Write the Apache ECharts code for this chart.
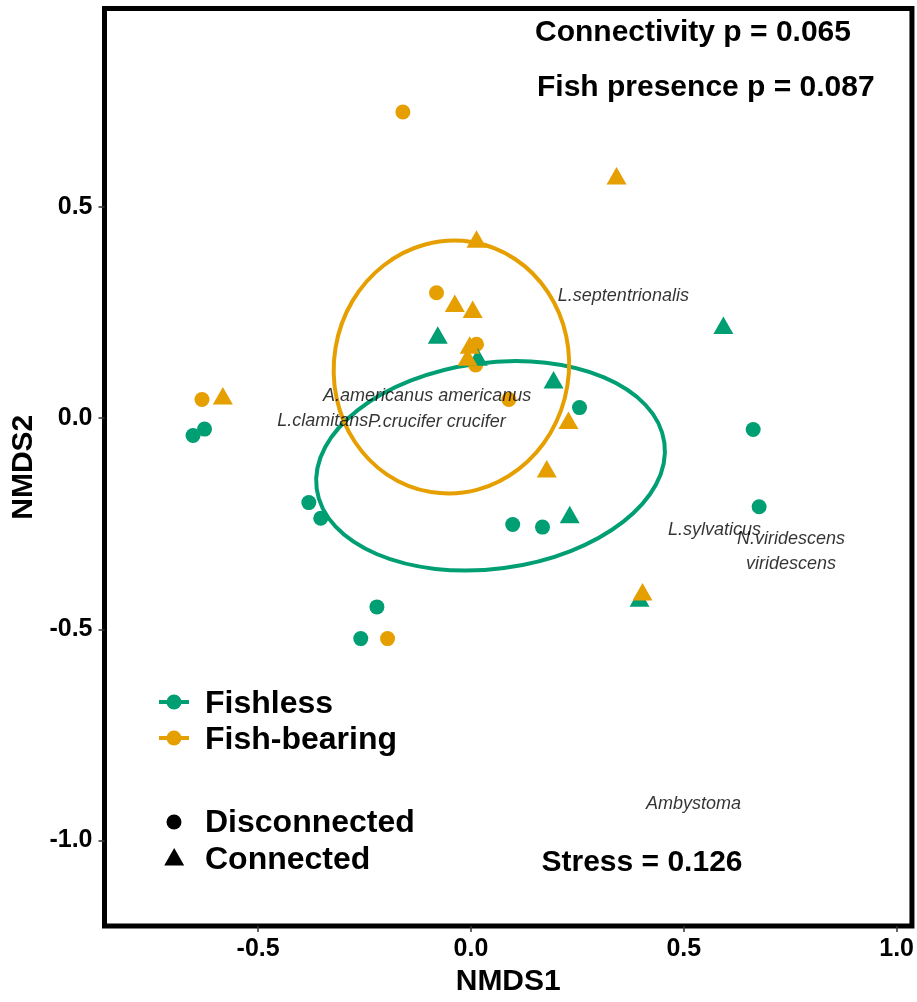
<!DOCTYPE html>
<html>
<head>
<meta charset="utf-8">
<title>NMDS ordination of amphibian communities</title>
<script src="https://cdn.jsdelivr.net/npm/echarts@6/dist/echarts.min.js"></script>
<style>
  html, body { margin: 0; padding: 0; background: #fff; }
  #chart { width: 917px; height: 1002px; }
</style>
</head>
<body>
<div id="chart"></div>
<script>
// Site scores (NMDS1, NMDS2) by fish status and connectivity
const fishlessDisconnectedX = [-0.653, -0.626, -0.381, -0.353, -0.221, -0.259, 0.255, 0.098, 0.168, 0.663, 0.677];
const fishlessDisconnectedY = [-0.041, -0.026, -0.200, -0.237, -0.447, -0.522, 0.025, -0.252, -0.258, -0.027, -0.210];
const fishlessConnectedX = [-0.078, 0.593, 0.194, 0.016, 0.232, 0.396];
const fishlessConnectedY = [0.197, 0.220, 0.091, 0.145, -0.228, -0.426];
const fishBearingDisconnectedX = [-0.160, -0.081, 0.013, 0.011, 0.089, -0.632, -0.196];
const fishBearingDisconnectedY = [0.725, 0.297, 0.175, 0.126, 0.044, 0.044, -0.522];
const fishBearingConnectedX = [0.342, 0.013, -0.038, 0.004, -0.003, -0.008, -0.583, 0.229, 0.178, 0.403];
const fishBearingConnectedY = [0.574, 0.424, 0.272, 0.258, 0.173, 0.145, 0.053, -0.005, -0.120, -0.411];

// Species scores
const speciesNames = ['L.septentrionalis', 'A.americanus americanus', 'L.clamitans', 'P.crucifer crucifer',
                      'L.sylvaticus', 'N.viridescens\nviridescens', 'Ambystoma'];
const speciesX = [0.358, -0.103, -0.348, -0.080, 0.572, 0.752, 0.523];
const speciesY = [0.297, 0.059, 0.000, -0.002, -0.257, -0.308, -0.907];

// 95% ellipses per fish group: centre, semi-axes, rotation in degrees
const ellipseGroups = ['Fishless', 'Fish-bearing'];
const ellipseCentreX = [0.046, -0.046];
const ellipseCentreY = [-0.113, 0.121];
const ellipseSemiX = [0.412, 0.276];
const ellipseSemiY = [0.244, 0.300];
const ellipseAngle = [7.5, -9.3];

// Axis ticks
const xTickValues = [-0.5, 0.0, 0.5, 1.0];
const yTickValues = [-1.0, -0.5, 0.0, 0.5];

// Test statistics
const connectivityP = '0.065';
const fishPresenceP = '0.087';
const stressValue = '0.126';

const GREEN = '#009E73';
const ORANGE = '#E69F00';
const FONT = '"Liberation Sans", Arial, Helvetica, sans-serif';
const groupColors = [GREEN, ORANGE];

const zip = (xs, ys) => xs.map((x, i) => [x, ys[i]]);

const chart = echarts.init(document.getElementById('chart'), null, { renderer: 'canvas' });

const circleSize = 15;
const triangleSize = [20, 17.5];

const keyText = (text, x, y) => ({
  type: 'text', x: x, y: y, z: 10,
  style: { text: text, fontFamily: FONT, fontSize: 32, fontWeight: 'bold', fill: '#000', verticalAlign: 'middle' }
});

const option = {
  backgroundColor: '#fff',
  animation: false,
  grid: {
    left: 104.5, right: 4.5, top: 8.5, bottom: 68,
    show: true, borderColor: '#000', borderWidth: 5, backgroundColor: '#fff'
  },
  xAxis: {
    type: 'value', min: -0.861, max: 1.036,
    name: 'NMDS1', nameLocation: 'middle', nameGap: 41,
    nameTextStyle: { fontFamily: FONT, fontSize: 30, fontWeight: 'bold', color: '#000' },
    axisLine: { show: false, onZero: false },
    axisTick: { show: true, customValues: xTickValues, length: 6, lineStyle: { color: '#333', width: 1.5 } },
    axisLabel: {
      customValues: xTickValues, margin: 11,
      formatter: v => v.toFixed(1),
      fontFamily: FONT, fontSize: 25, fontWeight: 'bold', color: '#000'
    },
    splitLine: { show: false }
  },
  yAxis: {
    type: 'value', min: -1.2026, max: 0.970,
    name: 'NMDS2', nameLocation: 'middle', nameGap: 60,
    nameTextStyle: { fontFamily: FONT, fontSize: 30, fontWeight: 'bold', color: '#000' },
    axisLine: { show: false, onZero: false },
    axisTick: { show: true, customValues: yTickValues, length: 6, lineStyle: { color: '#333', width: 1.5 } },
    axisLabel: {
      customValues: yTickValues, margin: 12, padding: [5, 0, 0, 0],
      formatter: v => v.toFixed(1),
      fontFamily: FONT, fontSize: 25, fontWeight: 'bold', color: '#000'
    },
    splitLine: { show: false }
  },
  series: [
    {
      name: 'Group ellipses',
      type: 'custom',
      z: 1,
      silent: true,
      data: ellipseGroups.map((g, i) => [ellipseCentreX[i], ellipseCentreY[i], ellipseSemiX[i], ellipseSemiY[i], ellipseAngle[i]]),
      renderItem: (params, api) => {
        const c = api.coord([api.value(0), api.value(1)]);
        const s = api.size([api.value(2), api.value(3)]);
        return {
          type: 'ellipse',
          x: c[0], y: c[1],
          rotation: api.value(4) * Math.PI / 180,
          shape: { cx: 0, cy: 0, rx: s[0], ry: s[1] },
          style: { fill: 'none', stroke: groupColors[params.dataIndex], lineWidth: 4 }
        };
      }
    },
    {
      name: 'Fish-bearing · Disconnected', type: 'scatter', z: 2,
      symbol: 'circle', symbolSize: circleSize,
      itemStyle: { color: ORANGE, opacity: 1 },
      data: zip(fishBearingDisconnectedX, fishBearingDisconnectedY)
    },
    {
      name: 'Fishless · Disconnected', type: 'scatter', z: 2,
      symbol: 'circle', symbolSize: circleSize,
      itemStyle: { color: GREEN, opacity: 1 },
      data: zip(fishlessDisconnectedX, fishlessDisconnectedY)
    },
    {
      name: 'Fishless · Connected', type: 'scatter', z: 2,
      symbol: 'triangle', symbolSize: triangleSize,
      itemStyle: { color: GREEN, opacity: 1 },
      data: zip(fishlessConnectedX, fishlessConnectedY)
    },
    {
      name: 'Fish-bearing · Connected', type: 'scatter', z: 2,
      symbol: 'triangle', symbolSize: triangleSize,
      itemStyle: { color: ORANGE, opacity: 1 },
      data: zip(fishBearingConnectedX, fishBearingConnectedY)
    },
    {
      name: 'Species', type: 'scatter', z: 5, silent: true,
      symbolSize: 1,
      itemStyle: { color: 'rgba(0,0,0,0)' },
      label: {
        show: true, position: 'inside', formatter: '{b}', offset: [0, 3],
        fontFamily: FONT, fontSize: 18, fontStyle: 'italic', color: '#000', lineHeight: 25
      },
      data: speciesNames.map((n, i) => ({ name: n, value: [speciesX[i], speciesY[i]] }))
    }
  ],
  graphic: [
    { type: 'text', x: 535, y: 33, z: 10,
      style: { text: 'Connectivity p = ' + connectivityP, fontFamily: FONT, fontSize: 30, fontWeight: 'bold', fill: '#000', verticalAlign: 'middle' } },
    { type: 'text', x: 537, y: 88, z: 10,
      style: { text: 'Fish presence p = ' + fishPresenceP, fontFamily: FONT, fontSize: 30, fontWeight: 'bold', fill: '#000', verticalAlign: 'middle' } },
    { type: 'text', x: 642, y: 863, z: 10,
      style: { text: 'Stress = ' + stressValue, fontFamily: FONT, fontSize: 30, fontWeight: 'bold', fill: '#000', align: 'center', verticalAlign: 'middle' } },

    // colour key
    { type: 'line', z: 10, shape: { x1: 159, y1: 702, x2: 189, y2: 702 }, style: { stroke: GREEN, lineWidth: 4 } },
    { type: 'circle', z: 11, shape: { cx: 174, cy: 702, r: 7.5 }, style: { fill: GREEN } },
    keyText('Fishless', 205, 704),
    { type: 'line', z: 10, shape: { x1: 159, y1: 738, x2: 189, y2: 738 }, style: { stroke: ORANGE, lineWidth: 4 } },
    { type: 'circle', z: 11, shape: { cx: 174, cy: 738, r: 7.5 }, style: { fill: ORANGE } },
    keyText('Fish-bearing', 205, 740),

    // shape key
    { type: 'circle', z: 11, shape: { cx: 174, cy: 822, r: 7.5 }, style: { fill: '#000' } },
    keyText('Disconnected', 205, 823.5),
    { type: 'polygon', z: 11, shape: { points: [[164.2, 865.5], [184.2, 865.5], [174.2, 848]] }, style: { fill: '#000' } },
    keyText('Connected', 205, 860.5)
  ]
};

chart.setOption(option);
</script>
</body>
</html>
